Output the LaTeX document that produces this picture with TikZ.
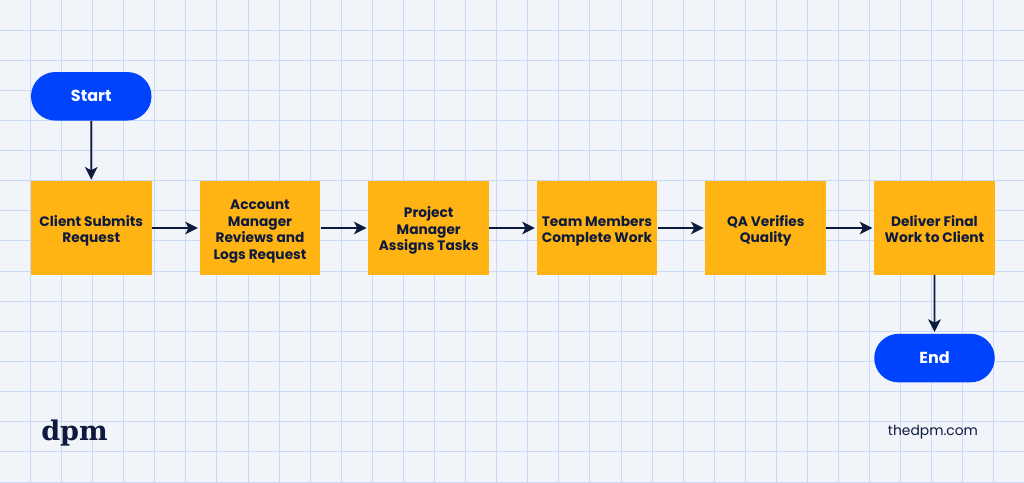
\documentclass[tikz,border=0pt]{standalone}
\usepackage{fontspec}
\setmainfont{Poppins}
\newfontfamily\logofont{DejaVu Serif}
\usetikzlibrary{arrows.meta,shapes.misc}
\definecolor{bgc}{HTML}{F1F5F9}
\definecolor{gridc}{HTML}{CBD9F8}
\definecolor{bluec}{HTML}{0043FF}
\definecolor{orangec}{HTML}{FFB414}
\definecolor{darkc}{HTML}{0E1A3D}
\newcommand{\lns}[1]{\raisebox{-2.25pt}[\height][\depth]{\begin{tabular}{@{}c@{}}#1\end{tabular}}}
\tikzset{
  x=0.75pt,y=-0.75pt,
  procbox/.style={rectangle,fill=orangec,minimum width=90.4pt,minimum height=69.8pt,inner sep=0pt,text=darkc,font=\bfseries\fontsize{10.3pt}{12.4pt}\selectfont},
  term/.style={rounded rectangle,fill=bluec,minimum width=90.4pt,minimum height=36.4pt,inner sep=0pt,text=white,font=\bfseries\fontsize{12pt}{13pt}\selectfont},
  conn/.style={draw=darkc,line width=1.2pt,-{Stealth[length=9.5pt,width=9.5pt,inset=2.5pt]},shorten >=1.2pt},
  gridline/.style={draw=gridc,line width=0.75pt}
}
\begin{document}
\begin{tikzpicture}
\useasboundingbox (0,0) rectangle (1024,482);
\fill[bgc] (0,0) rectangle (1024,482);
\foreach \i in {0,...,32}{\draw[gridline] ({30.5+31.08*\i},0) -- ({30.5+31.08*\i},482);}
\foreach \i in {0,...,15}{\draw[gridline] (0,{30+30.14*\i}) -- (1024,{30+30.14*\i});}
\node[term] (start) at (91.25,96.3) {Start};
\node[procbox] (a) at (91.25,228) {\lns{Client Submits\\Request}};
\node[procbox] (b) at (260,228) {\lns{Account\\Manager\\Reviews and\\Logs Request}};
\node[procbox] (c) at (428.75,228) {\lns{Project\\Manager\\Assigns Tasks}};
\node[procbox] (d) at (597,228) {\lns{Team Members\\Complete Work}};
\node[procbox] (e) at (765.75,228) {\lns{QA Verifies\\Quality}};
\node[procbox] (f) at (934.5,228) {\lns{Deliver Final\\Work to Client}};
\node[term] (end) at (934.5,358.1) {End};
\draw[conn] (start) -- (a);
\draw[conn] (a) -- (b);
\draw[conn] (b) -- (c);
\draw[conn] (c) -- (d);
\draw[conn] (d) -- (e);
\draw[conn] (e) -- (f);
\draw[conn] (f) -- (end);
\node[text=darkc,font=\logofont\bfseries\fontsize{20.3pt}{21pt}\selectfont,inner sep=0pt] (logo) at (74.5,433.5) {dpm};
\node[text=darkc,font=\fontsize{10.4pt}{12pt}\selectfont,inner sep=0pt] (site) at (933,432) {thedpm.com};
\end{tikzpicture}
\end{document}
